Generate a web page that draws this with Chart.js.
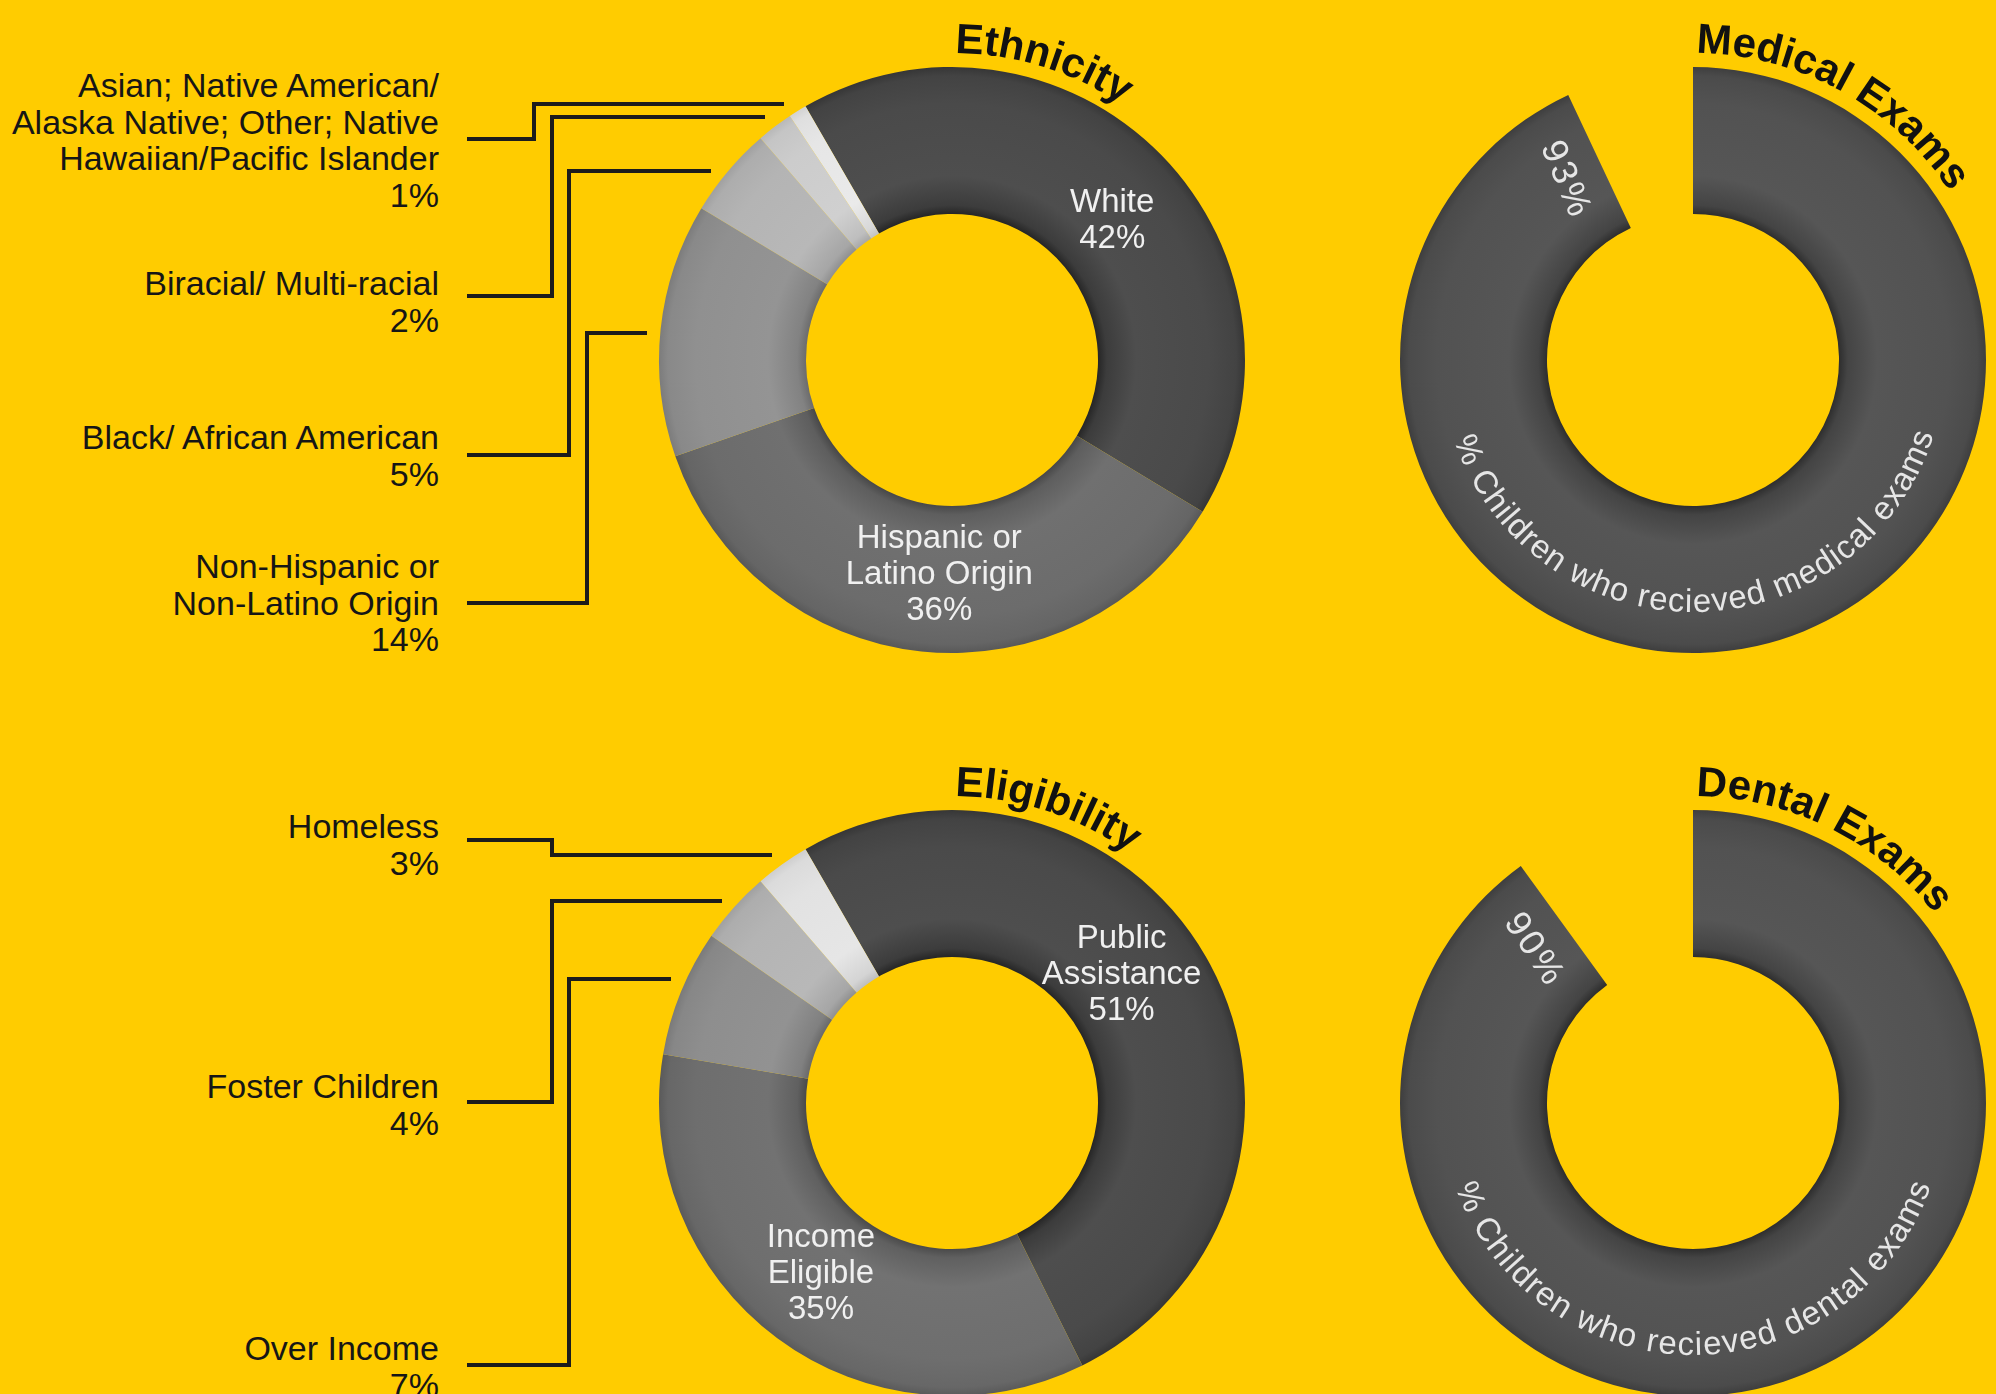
<!DOCTYPE html>
<html>
<head>
<meta charset="utf-8">
<script src="https://cdn.jsdelivr.net/npm/chart.js@4.4.0/dist/chart.umd.min.js"></script>
<style>
	html, body { margin: 0; padding: 0; }
	body {
		width: 1996px; height: 1394px; overflow: hidden; position: relative;
		background: #FFCC00;
		font-family: "Liberation Sans", Arial, Helvetica, sans-serif;
	}
	canvas.ring { position: absolute; }
	.side-label {
		position: absolute; right: 1557px;
		text-align: right; white-space: nowrap;
		font-size: 34px; line-height: 36.5px; color: #161616;
	}
	#overlay { position: absolute; left: 0; top: 0; }
	.title { font-weight: bold; font-size: 42px; fill: #111; }
	.inside { font-size: 33px; fill: #f0f0f0; }
	.caption { font-size: 33px; fill: #e6e6e6; }
	.tag { font-size: 36px; fill: #e6e6e6; letter-spacing: 3px; }
</style>
</head>
<body>
<canvas id="ethnicity" class="ring" width="620" height="620" style="left:642px;top:50px"></canvas>
<canvas id="eligibility" class="ring" width="620" height="620" style="left:642px;top:793px"></canvas>
<canvas id="medical" class="ring" width="620" height="620" style="left:1383px;top:50px"></canvas>
<canvas id="dental" class="ring" width="620" height="620" style="left:1383px;top:793px"></canvas>
<svg id="overlay" width="1996" height="1394"><defs id="defs"></defs></svg>

<script>
// ---- data ----
const ethnicityLabels = [
	["White"],
	["Hispanic or", "Latino Origin"],
	["Non-Hispanic or", "Non-Latino Origin"],
	["Black/ African American"],
	["Biracial/ Multi-racial"],
	["Asian; Native American/", "Alaska Native; Other; Native", "Hawaiian/Pacific Islander"]
];
const ethnicityValues = [42, 36, 14, 5, 2, 1];

const eligibilityLabels = [
	["Public", "Assistance"],
	["Income", "Eligible"],
	["Over Income"],
	["Foster Children"],
	["Homeless"]
];
const eligibilityValues = [51, 35, 7, 4, 3];

const medicalValue = 93;
const dentalValue = 90;

// ---- style / layout ----
const RADIUS = 293, CUTOUT = 146;
const ethnicityGrays = [72, 106, 142, 178, 202, 228];
const eligibilityGrays = [72, 108, 140, 178, 224];
const examGray = 80;

// labels drawn inside the ring: index -> position along the slice (0..1)
const ethnicityInside = {0: 0.52, 1: 0.48};
const eligibilityInside = {0: 0.45, 1: 0.51};

// labels drawn at the left with leader lines
const ethnicityOutside = {
	2: {top: 548, y1: 603, elbow: 587, y2: 333, endX: 647},
	3: {top: 419, y1: 455, elbow: 569, y2: 171, endX: 711},
	4: {top: 265, y1: 296, elbow: 552, y2: 117, endX: 765},
	5: {top: 67, y1: 139, elbow: 534, y2: 104, endX: 784}
};
const eligibilityOutside = {
	2: {top: 1330, y1: 1365, elbow: 569, y2: 979, endX: 671},
	3: {top: 1068, y1: 1102, elbow: 552, y2: 901, endX: 722},
	4: {top: 808, y1: 840, elbow: 552, y2: 855, endX: 772}
};
const leaderStartX = 467;

const gray = v => {
	v = Math.max(0, Math.min(255, Math.round(v)));
	return `rgb(${v},${v},${v})`;
};

// radial shading so each ring looks a bit rounded
function shaded(ctx, level) {
	const area = ctx.chart.chartArea;
	if (!area) return gray(level);
	const cx = (area.left + area.right) / 2, cy = (area.top + area.bottom) / 2;
	const g = ctx.chart.ctx.createRadialGradient(cx, cy, CUTOUT, cx, cy, RADIUS);
	g.addColorStop(0, gray(level - 34));
	g.addColorStop(0.06, gray(level - 12));
	g.addColorStop(0.26, gray(level + 6));
	g.addColorStop(0.75, gray(level + 2));
	g.addColorStop(0.94, gray(level - 5));
	g.addColorStop(1, gray(level - 18));
	return g;
}

function ring(id, labels, values, fillFor, rotation) {
	return new Chart(document.getElementById(id).getContext("2d"), {
		type: "doughnut",
		data: {
			labels: labels,
			datasets: [{
				data: values,
				backgroundColor: ctx => fillFor(ctx),
				borderWidth: 0,
				hoverOffset: 0
			}]
		},
		options: {
			responsive: false,
			animation: false,
			events: [],
			radius: RADIUS,
			cutout: (CUTOUT / RADIUS * 100) + "%",
			rotation: rotation,
			layout: {padding: 0},
			plugins: {
				legend: {display: false},
				tooltip: {enabled: false}
			}
		}
	});
}

const ethnicityChart = ring("ethnicity", ethnicityLabels.map(l => l.join(" ")), ethnicityValues,
	ctx => shaded(ctx, ethnicityGrays[ctx.dataIndex]), -30);
const eligibilityChart = ring("eligibility", eligibilityLabels.map(l => l.join(" ")), eligibilityValues,
	ctx => shaded(ctx, eligibilityGrays[ctx.dataIndex]), -30);
const medicalChart = ring("medical", ["Received", "Not received"], [medicalValue, 100 - medicalValue],
	ctx => ctx.dataIndex === 0 ? shaded(ctx, examGray) : "rgba(0,0,0,0)", 0);
const dentalChart = ring("dental", ["Received", "Not received"], [dentalValue, 100 - dentalValue],
	ctx => ctx.dataIndex === 0 ? shaded(ctx, examGray) : "rgba(0,0,0,0)", 0);

// ---- overlay: titles, labels, leader lines ----
const svgNS = "http://www.w3.org/2000/svg";
const overlay = document.getElementById("overlay");
const defs = document.getElementById("defs");

function el(tag, attrs, parent) {
	const e = document.createElementNS(svgNS, tag);
	for (const k in attrs) e.setAttribute(k, attrs[k]);
	(parent || overlay).appendChild(e);
	return e;
}

function centre(chart, i) {
	const arc = chart.getDatasetMeta(0).data[i || 0];
	return {
		arc: arc,
		x: chart.canvas.offsetLeft + arc.x,
		y: chart.canvas.offsetTop + arc.y
	};
}

// angle in degrees, clockwise from 12 o'clock
function polar(cx, cy, r, deg) {
	const a = (deg - 90) * Math.PI / 180;
	return [cx + r * Math.cos(a), cy + r * Math.sin(a)];
}

function arcTitle(chart, text, id) {
	const c = centre(chart);
	const r = c.arc.outerRadius + 14;
	const [x0, y0] = polar(c.x, c.y, r, 0);
	const [x1, y1] = polar(c.x, c.y, r, 150);
	el("path", {id: id, d: `M${x0} ${y0} A${r} ${r} 0 0 1 ${x1} ${y1}`, fill: "none"}, defs);
	const t = el("text", {class: "title"});
	const tp = el("textPath", {href: "#" + id, startOffset: 3}, t);
	tp.textContent = text;
}

function ringCaption(chart, text, id, fromDeg, toDeg) {
	const c = centre(chart);
	const r = 252;
	const [x0, y0] = polar(c.x, c.y, r, fromDeg);
	const [x1, y1] = polar(c.x, c.y, r, toDeg);
	el("path", {id: id, d: `M${x0} ${y0} A${r} ${r} 0 0 0 ${x1} ${y1}`, fill: "none"}, defs);
	const t = el("text", {class: "caption"});
	const tp = el("textPath", {href: "#" + id}, t);
	tp.textContent = text;
	const target = r * (fromDeg - toDeg) * Math.PI / 180;
	const natural = t.getComputedTextLength();
	t.style.letterSpacing = Math.max(0, (target - natural) / text.length) + "px";
}

function ringTag(chart, text) {
	const c = centre(chart);
	const a = c.arc.endAngle - 9.5 * Math.PI / 180;
	const r = 220;
	const x = c.x + r * Math.cos(a), y = c.y + r * Math.sin(a);
	const rot = a * 180 / Math.PI + 180 + 12;
	const t = el("text", {
		class: "tag", x: x, y: y,
		"text-anchor": "middle", "dominant-baseline": "central",
		transform: `rotate(${rot} ${x} ${y})`
	});
	t.textContent = text;
}

function insideLabels(chart, labels, values, which) {
	for (const i in which) {
		const c = centre(chart, +i);
		const a = c.arc.startAngle + which[i] * (c.arc.endAngle - c.arc.startAngle);
		const r = (c.arc.innerRadius + c.arc.outerRadius) / 2 - 6;
		const x = c.x + r * Math.cos(a), y = c.y + r * Math.sin(a);
		const lines = labels[i].concat([values[i] + "%"]);
		const t = el("text", {class: "inside", "text-anchor": "middle"});
		lines.forEach((line, k) => {
			const s = el("tspan", {x: x, y: y + (k - (lines.length - 1) / 2) * 36 + 11}, t);
			s.textContent = line;
		});
	}
}

function sideLabels(labels, values, which) {
	for (const i in which) {
		const cfg = which[i];
		const div = document.createElement("div");
		div.className = "side-label";
		div.style.top = cfg.top + "px";
		div.innerHTML = labels[i].concat([values[i] + "%"]).join("<br>");
		document.body.insertBefore(div, overlay);
		el("polyline", {
			points: `${leaderStartX},${cfg.y1} ${cfg.elbow},${cfg.y1} ${cfg.elbow},${cfg.y2} ${cfg.endX},${cfg.y2}`,
			fill: "none", stroke: "#1c1c1c", "stroke-width": 4, "stroke-linecap": "butt"
		});
	}
}

arcTitle(ethnicityChart, "Ethnicity", "t-eth");
arcTitle(eligibilityChart, "Eligibility", "t-eli");
arcTitle(medicalChart, "Medical Exams", "t-med");
arcTitle(dentalChart, "Dental Exams", "t-den");

insideLabels(ethnicityChart, ethnicityLabels, ethnicityValues, ethnicityInside);
insideLabels(eligibilityChart, eligibilityLabels, eligibilityValues, eligibilityInside);
sideLabels(ethnicityLabels, ethnicityValues, ethnicityOutside);
sideLabels(eligibilityLabels, eligibilityValues, eligibilityOutside);

ringTag(medicalChart, medicalValue + "%");
ringTag(dentalChart, dentalValue + "%");
ringCaption(medicalChart, "% Children who recieved medical exams", "c-med", 251.5, 107);
ringCaption(dentalChart, "% Children who recieved dental exams", "c-den", 250.5, 109);
</script>
</body>
</html>
